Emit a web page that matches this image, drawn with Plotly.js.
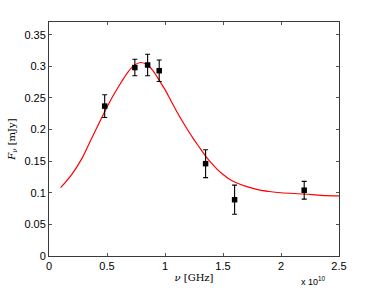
<!DOCTYPE html>
<html>
<head>
<meta charset="utf-8">
<script src="https://cdn.plot.ly/plotly-3.0.1.min.js"></script>
<style>html,body{margin:0;padding:0;background:#fff;}#chart{width:374px;height:288px;}</style>
</head>
<body>
<div id="chart"></div>
<script>
// frequencies in units of 1e10 Hz
var obsNu = [0.48, 0.74, 0.85, 0.95, 1.35, 1.60, 2.20];
var obsFlux = [0.237, 0.298, 0.302, 0.293, 0.146, 0.089, 0.104];
var obsErr = [0.018, 0.013, 0.017, 0.017, 0.022, 0.023, 0.014];

var fitNu = [0.10, 0.20, 0.283, 0.37, 0.455, 0.53, 0.60, 0.67, 0.73, 0.79, 0.85, 0.90, 0.96, 1.00, 1.05, 1.10, 1.15, 1.20, 1.25, 1.30, 1.35, 1.40, 1.45, 1.50, 1.55, 1.60, 1.70, 1.80, 1.90, 2.00, 2.20, 2.35, 2.50];
var fitFlux = [0.108, 0.130, 0.154, 0.187, 0.219, 0.246, 0.268, 0.288, 0.301, 0.306, 0.302, 0.292, 0.275, 0.263, 0.246, 0.229, 0.213, 0.198, 0.184, 0.171, 0.158, 0.147, 0.137, 0.129, 0.122, 0.117, 0.110, 0.105, 0.102, 0.100, 0.098, 0.096, 0.095];

var xTickVals = [0, 0.5, 1, 1.5, 2, 2.5];
var xTickText = ['0', '0.5', '1', '1.5', '2', '2.5'];
var yTickVals = [0, 0.05, 0.1, 0.15, 0.2, 0.25, 0.3, 0.35];
var yTickText = ['0', '0.05', '0.1', '0.15', '0.2', '0.25', '0.3', '0.35'];

var traces = [
  {x: fitNu, y: fitFlux, mode: 'lines', line: {color: '#ff0000', width: 1.2, shape: 'spline', smoothing: 1}, hoverinfo: 'skip'},
  {x: obsNu, y: obsFlux, mode: 'markers', marker: {symbol: 'square', size: 5.5, color: '#000'},
   error_y: {type: 'data', array: obsErr, visible: true, color: '#000', thickness: 1.1, width: 2.5}}
];

var axCommon = {
  showgrid: false, zeroline: false, showline: true, mirror: 'ticks',
  linecolor: '#3a3a3a', linewidth: 1, ticks: 'inside', ticklen: 3, tickcolor: '#555',
  tickfont: {family: 'Liberation Sans, Arial, sans-serif', size: 11, color: '#000'}
};

var layout = {
  width: 374, height: 288,
  margin: {l: 48.5, r: 35.3, t: 21.7, b: 32.3},
  paper_bgcolor: '#fff', plot_bgcolor: '#fff',
  showlegend: false,
  xaxis: Object.assign({}, axCommon, {
    range: [0, 2.5], tickvals: xTickVals, ticktext: xTickText,
    title: {text: '<i>ν</i> [GHz]', standoff: 2, font: {family: 'DejaVu Serif, Liberation Serif, serif', size: 10, color: '#000'}}
  }),
  yaxis: Object.assign({}, axCommon, {
    range: [0, 0.37], tickvals: yTickVals, ticktext: yTickText,
    title: {text: '<i>F</i><sub><i>ν</i></sub> [mJy]', standoff: 6, font: {family: 'DejaVu Serif, Liberation Serif, serif', size: 10, color: '#000'}}
  }),
  annotations: [{
    xref: 'paper', yref: 'paper', x: 1, y: 0, xanchor: 'right', yanchor: 'top', yshift: -17, xshift: -11,
    text: 'x 10<sup>10</sup>', showarrow: false,
    font: {family: 'Liberation Sans, Arial, sans-serif', size: 9, color: '#000'}
  }]
};

Plotly.newPlot('chart', traces, layout, {displayModeBar: false, staticPlot: true});
</script>
</body>
</html>
